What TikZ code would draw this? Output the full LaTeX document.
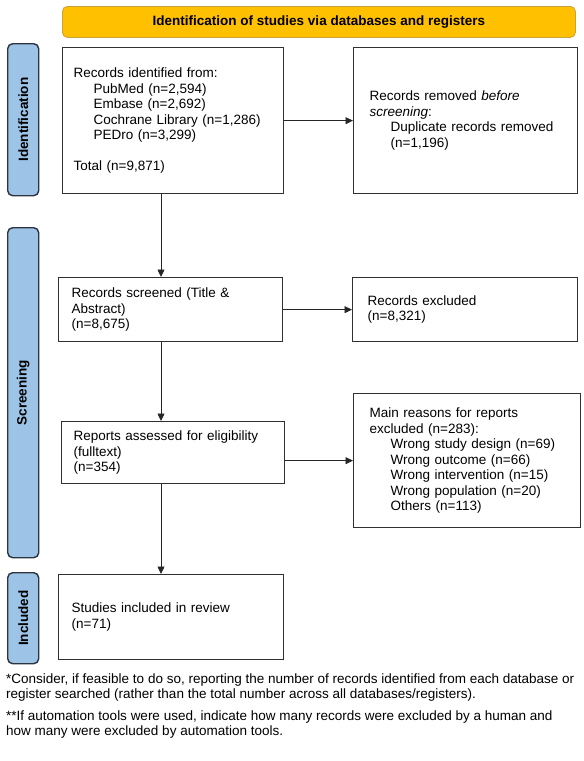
\documentclass[tikz,border=0pt]{standalone}
\usepackage{fontspec}
\setmainfont{Liberation Sans}
\usetikzlibrary{arrows.meta}
\definecolor{gold}{HTML}{FFC000}
\definecolor{goldedge}{HTML}{C9A23A}
\definecolor{phase}{HTML}{9DC3E6}
\definecolor{phaseedge}{HTML}{2B3440}
\definecolor{boxedge}{HTML}{303030}
\begin{document}
\begin{tikzpicture}[x=1pt,y=-1pt,
  box/.style={draw=boxedge, line width=1.3pt, fill=white, anchor=north west,
    align=left, inner xsep=0pt, inner ysep=0pt,
    font=\fontsize{13.5}{15.5}\selectfont},
  phasebar/.style={draw=phaseedge, line width=1.4pt, fill=phase, rounded corners=5pt,
    anchor=north west, minimum width=31pt, inner sep=0pt},
  phasetxt/.style={rotate=90, font=\fontsize{13.5}{15}\selectfont\bfseries, inner sep=0pt},
  titlebar/.style={draw=goldedge, line width=0.8pt, fill=gold, rounded corners=5pt,
    anchor=north west, inner sep=0pt, font=\fontsize{13.5}{15}\selectfont\bfseries},
  conn/.style={draw=black!85, line width=0.7pt, -{Triangle[length=7.5pt,width=7pt]}},
  note/.style={anchor=base west, align=left, inner sep=0pt,
    font=\fontsize{13.5}{15}\selectfont}
]
\useasboundingbox (0,0) rectangle (584,761);

% title
\node[titlebar, minimum width=513pt, minimum height=31pt] (title) at (62,6)
  {Identification of studies via databases and registers};

% phase bars
\node[phasebar, minimum height=152pt] (pid) at (7,43) {};
\node[phasetxt] (pidt) at (pid.center) {Identification};
\node[phasebar, minimum height=330pt] (pscr) at (7,227) {};
\node[phasetxt] (pscrt) at (pscr.center) {Screening};
\node[phasebar, minimum height=91pt] (pinc) at (7,572) {};
\node[phasetxt] (pinct) at (pinc.center) {Included};

% boxes
\node[box, minimum width=221pt, minimum height=146pt, text width=221pt] (b1) at (62,47)
  {\hspace*{11pt}Records identified from:\\
   \hspace*{31pt}PubMed (n=2,594)\\
   \hspace*{31pt}Embase (n=2,692)\\
   \hspace*{31pt}Cochrane Library (n=1,286)\\
   \hspace*{31pt}PEDro (n=3,299)\\[15.5pt]
   \hspace*{11pt}Total (n=9,871)};

\node[box, minimum width=224pt, minimum height=146pt, text width=224pt] (b2) at (353,47)
  {\hspace*{16pt}Records removed \emph{before}\\
   \hspace*{16pt}\emph{screening}:\\
   \hspace*{37pt}Duplicate records removed\\
   \hspace*{37pt}(n=1,196)\\[12pt]};

\node[box, minimum width=224pt, minimum height=64pt, text width=224pt] (b3) at (58,277)
  {\hspace*{13pt}Records screened (Title \&\\
   \hspace*{13pt}Abstract)\\
   \hspace*{13pt}(n=8,675)};

\node[box, minimum width=225pt, minimum height=64pt, text width=225pt] (b4) at (352,277)
  {\hspace*{15pt}Records excluded\\
   \hspace*{15pt}(n=8,321)};

\node[box, minimum width=223pt, minimum height=62pt, text width=223pt] (b5) at (61,421)
  {\hspace*{12pt}Reports assessed for eligibility\\
   \hspace*{12pt}(fulltext)\\
   \hspace*{12pt}(n=354)};

\node[box, minimum width=227pt, minimum height=134pt, text width=227pt] (b6) at (353,393)
  {\hspace*{16pt}Main reasons for reports\\
   \hspace*{16pt}excluded (n=283):\\
   \hspace*{37pt}Wrong study design (n=69)\\
   \hspace*{37pt}Wrong outcome (n=66)\\
   \hspace*{37pt}Wrong intervention (n=15)\\
   \hspace*{37pt}Wrong population (n=20)\\
   \hspace*{37pt}Others (n=113)};

\node[box, minimum width=225pt, minimum height=85pt, text width=225pt] (b7) at (58,574)
  {\hspace*{13pt}Studies included in review\\
   \hspace*{13pt}(n=71)};

% connectors
\coordinate (vx) at (161,0);
\draw[conn] (b1.east) -- (b2.west |- b1.east);
\draw[conn] (b1.south -| vx) -- (b3.north -| vx);
\draw[conn] (b3.east |- b4.west) -- (b4.west);
\draw[conn] (b3.south -| vx) -- (b5.north -| vx);
\draw[conn] (b5.east |- b6.west) -- (b6.west);
\draw[conn] (b5.south -| vx) -- (b7.north -| vx);

% notes
\node[note] (n1) at (6,698)
  {*Consider, if feasible to do so, reporting the number of records identified from each database or\\
   register searched (rather than the total number across all databases/registers).};
\node[note] (n2) at (6,735)
  {**If automation tools were used, indicate how many records were excluded by a human and\\
   how many were excluded by automation tools.};
\end{tikzpicture}
\end{document}
